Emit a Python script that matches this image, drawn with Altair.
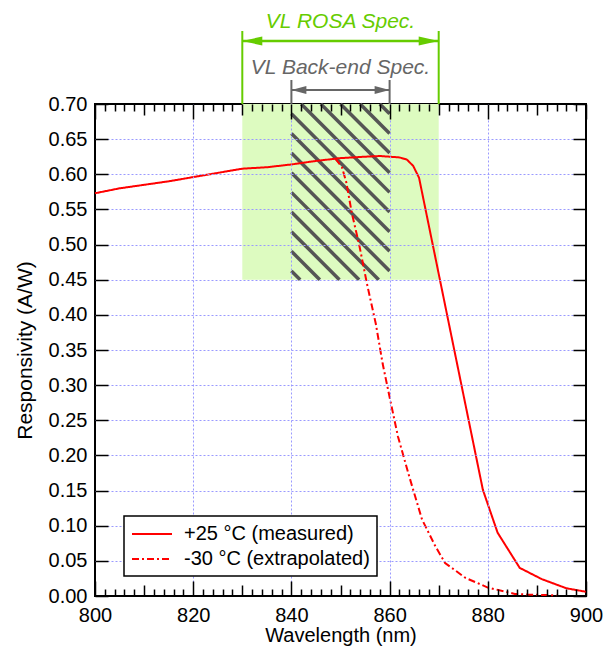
import altair as alt
import pandas as pd
import numpy as np

# ---------------- data ----------------
wl_25 = [800, 805, 810, 815, 820, 825, 830, 835, 840, 845, 850, 855, 858, 860,
         862, 863.5, 864.8, 866, 879, 882, 886.5, 891, 896, 900]
resp_25 = [0.573, 0.580, 0.585, 0.590, 0.596, 0.602, 0.608, 0.610, 0.614, 0.619,
           0.623, 0.625, 0.626, 0.625, 0.624, 0.621, 0.612, 0.595, 0.151, 0.090,
           0.040, 0.024, 0.011, 0.006]
wl_m30 = [849, 850.3, 851.2, 852.3, 853.8, 855.4, 857.2, 858.6, 860.0, 861.7,
          864.0, 866.6, 869.3, 871.3, 875.4, 880.0, 885.5, 888.0, 894.0]
resp_m30 = [0.622, 0.610, 0.588, 0.545, 0.500, 0.444, 0.387, 0.330, 0.283, 0.227,
            0.170, 0.109, 0.071, 0.047, 0.026, 0.012, 0.003, 0.002, 0.001]
series_names = ["+25 °C (measured)", "-30 °C (extrapolated)"]

rosa_spec = [830, 870]          # VL ROSA Spec. wavelength window
backend_spec = [840, 860]       # VL Back-end Spec. wavelength window
spec_resp = [0.45, 0.70]        # responsivity window of the spec boxes
spec_labels = ["VL ROSA Spec.", "VL Back-end Spec."]

x_domain = [800, 900]
y_domain = [0.0, 0.70]
x_label_values = [800, 820, 840, 860, 880, 900]
x_minor_values = list(range(800, 901, 2))
y_values = [round(0.05 * i, 2) for i in range(15)]

# ---------------- style ----------------
W, H = 491, 492
PAD = {"left": 87, "top": 96, "right": 18, "bottom": 51}
FONT = "Liberation Sans"
RED = "#ff0000"
GREEN = "#66cc00"
GREY = "#666666"
FILL = "#ddfbc0"
HATCH = "#555555"
GRID = "#9a9aff"

xs = alt.Scale(domain=x_domain, nice=False, zero=False)
ys = alt.Scale(domain=y_domain, nice=False, zero=False)

curves = pd.DataFrame({
    "wl": wl_25 + wl_m30,
    "resp": resp_25 + resp_m30,
    "series": [series_names[0]] * len(wl_25) + [series_names[1]] * len(wl_m30),
})

spec_df = pd.DataFrame({"x0": [rosa_spec[0]], "x1": [rosa_spec[1]],
                        "y0": [spec_resp[0]], "y1": [spec_resp[1]]})

# hatch segments (45 deg in pixel space) clipped to the back-end box
px_nm = W / (x_domain[1] - x_domain[0])
px_unit = H / (y_domain[1] - y_domain[0])
slope = px_nm / px_unit  # responsivity drop per nm along a 45 deg line
hx0, hx1, hy0, hy1 = [], [], [], []
for xt in np.arange(backend_spec[0] + 2 - 4 * 10, backend_spec[1], 4.0):
    xa, ya = xt, spec_resp[1]
    if xa < backend_spec[0]:
        xa = backend_spec[0]
        ya = spec_resp[1] - (xa - xt) * slope
    xb = xt + (spec_resp[1] - spec_resp[0]) / slope
    yb = spec_resp[0]
    if xb > backend_spec[1]:
        xb = backend_spec[1]
        yb = spec_resp[1] - (xb - xt) * slope
    if ya > spec_resp[0] and xb > xa:
        hx0.append(xa); hx1.append(xb); hy0.append(ya); hy1.append(yb)
hatch_df = pd.DataFrame({"hx0": hx0, "hx1": hx1, "hy0": hy0, "hy1": hy1})

x_tick_size = {"condition": [{"test": "datum.value % 20 === 0", "value": 15},
                             {"test": "datum.value % 10 === 0", "value": 11}],
               "value": 7}

grid_x_op = {"condition": {"test": "datum.value <= 800 || datum.value >= 900", "value": 0}, "value": 1}
grid_y_op = {"condition": {"test": "datum.value <= 0.001 || datum.value >= 0.699", "value": 0}, "value": 1}

# axes
ax_x_labels = alt.Axis(orient="bottom", values=x_label_values, ticks=False, domain=False,
                       grid=True, gridColor=GRID, gridDash=[2, 2], gridWidth=1, gridOpacity=grid_x_op,
                       labelFont=FONT, labelFontSize=20, labelColor="black", labelPadding=9,
                       labelFlush=False, labelOverlap=False,
                       title="Wavelength (nm)", titleFont=FONT, titleFontSize=20,
                       titleFontWeight="normal", titleColor="black", titlePadding=0, zindex=1)
ax_y_labels = alt.Axis(orient="left", values=y_values, format=".2f", ticks=False, domain=False,
                       grid=True, gridColor=GRID, gridDash=[2, 2], gridWidth=1, gridOpacity=grid_y_op,
                       labelFont=FONT, labelFontSize=20, labelColor="black", labelPadding=8,
                       labelFlush=False, labelOverlap=False,
                       title="Responsivity (A/W)", titleFont=FONT, titleFontSize=21,
                       titleFontWeight="normal", titleColor="black", titlePadding=13, zindex=1)
ax_x_bottom_ticks = alt.Axis(orient="top", offset=-H, values=x_minor_values, labels=False,
                             domain=False, grid=False, tickSize=x_tick_size, tickColor="black",
                             tickWidth=1.5, title=None, zindex=1)
ax_x_top_ticks = alt.Axis(orient="bottom", offset=-H, values=x_minor_values, labels=False,
                          domain=False, grid=False, tickSize=x_tick_size, tickColor="black",
                          tickWidth=1.5, title=None, zindex=1)
ax_y_left_ticks = alt.Axis(orient="right", offset=-W, values=y_values, labels=False,
                           domain=False, grid=False, tickSize=13, tickColor="black",
                           tickWidth=1.5, title=None, zindex=1)
ax_y_right_ticks = alt.Axis(orient="left", offset=-W, values=y_values, labels=False,
                            domain=False, grid=False, tickSize=13, tickColor="black",
                            tickWidth=1.5, title=None, zindex=1)

# green spec box (carries label axes)
box = alt.Chart(spec_df).mark_rect(color=FILL).encode(
    x=alt.X("x0:Q", scale=xs, axis=ax_x_labels),
    x2="x1:Q",
    y=alt.Y("y0:Q", scale=ys, axis=ax_y_labels),
    y2="y1:Q",
)

# hatching of the back-end box (carries bottom/left inward ticks)
hatch = alt.Chart(hatch_df).mark_rule(color=HATCH, strokeWidth=3.5, strokeCap="butt").encode(
    x=alt.X("hx0:Q", scale=xs, axis=ax_x_bottom_ticks),
    x2="hx1:Q",
    y=alt.Y("hy0:Q", scale=ys, axis=ax_y_left_ticks),
    y2="hy1:Q",
)

legend = alt.Legend(orient="none", legendX=29, legendY=412, title=None,
                    symbolType="M-2,0L2,0", symbolSize=400, symbolStrokeWidth=2,
                    symbolOffset=10, symbolFillColor="transparent",
                    labelFont=FONT, labelFontSize=20, labelColor="black", labelLimit=400,
                    labelOffset=21, padding=7, rowPadding=4,
                    strokeColor="black", fillColor="white", zindex=3)

lines = alt.Chart(curves).mark_line(strokeWidth=2).encode(
    x=alt.X("wl:Q", scale=xs, axis=ax_x_top_ticks),
    y=alt.Y("resp:Q", scale=ys, axis=ax_y_right_ticks),
    color=alt.Color("series:N", scale=alt.Scale(domain=series_names, range=[RED, RED]),
                    legend=legend),
    strokeDash=alt.StrokeDash("series:N",
                              scale=alt.Scale(domain=series_names, range=[[1, 0], [7, 3, 2, 3]]),
                              legend=legend),
    order="wl:Q",
)

# ---------------- annotations above the plot ----------------
rosa_df = pd.DataFrame({"x": rosa_spec})
back_df = pd.DataFrame({"x": backend_spec})
rosa_span = pd.DataFrame({"a": [rosa_spec[0]], "b": [rosa_spec[1]]})
back_span = pd.DataFrame({"a": [backend_spec[0]], "b": [backend_spec[1]]})
label_df = pd.DataFrame({"x": [sum(rosa_spec) / 2, sum(backend_spec) / 2],
                         "label": spec_labels})

def noax(field):
    return alt.X(field, scale=xs, axis=None)

rosa_vert = alt.Chart(rosa_df).mark_rule(color=GREEN, strokeWidth=2).encode(
    x=noax("x:Q"), y=alt.value(-73), y2=alt.value(0))
back_vert = alt.Chart(back_df).mark_rule(color=GREY, strokeWidth=2).encode(
    x=noax("x:Q"), y=alt.value(-24), y2=alt.value(0))
rosa_arrow = alt.Chart(rosa_span).mark_rule(color=GREEN, strokeWidth=2.5).encode(
    x=noax("a:Q"), x2="b:Q", y=alt.value(-63))
back_arrow = alt.Chart(back_span).mark_rule(color=GREY, strokeWidth=2).encode(
    x=noax("a:Q"), x2="b:Q", y=alt.value(-14))

def head(df_x, shape, color, y):
    return alt.Chart(pd.DataFrame({"x": [df_x]})).mark_point(
        shape=shape, filled=True, size=400, color=color, opacity=1, strokeWidth=0
    ).encode(x=noax("x:Q"), y=alt.value(y))

heads = [
    head(rosa_spec[0], "M0,0L2,-0.45L2,0.45Z", GREEN, -63),
    head(rosa_spec[1], "M0,0L-2,-0.45L-2,0.45Z", GREEN, -63),
    head(backend_spec[0], "M0,0L1.5,-0.4L1.5,0.4Z", GREY, -14),
    head(backend_spec[1], "M0,0L-1.5,-0.4L-1.5,0.4Z", GREY, -14),
]

rosa_text = alt.Chart(label_df.iloc[[0]]).mark_text(
    font=FONT, fontSize=21, fontStyle="italic", color=GREEN, baseline="middle", align="center"
).encode(x=noax("x:Q"), y=alt.value(-82), text="label:N")
back_text = alt.Chart(label_df.iloc[[1]]).mark_text(
    font=FONT, fontSize=21, fontStyle="italic", color=GREY, baseline="middle", align="center"
).encode(x=noax("x:Q"), y=alt.value(-36), text="label:N")

chart = alt.layer(
    box, hatch, lines, rosa_vert, back_vert, rosa_arrow, back_arrow, *heads, rosa_text, back_text
).resolve_axis(
    x="independent", y="independent"
).properties(
    width=W, height=H,
    autosize=alt.AutoSizeParams(type="none"),
    padding=PAD,
).configure_view(
    stroke="black", strokeWidth=2
).configure_legend(
    strokeWidth=1.5
)

chart.save("out.html", embed_options={"renderer": "svg", "actions": False})
